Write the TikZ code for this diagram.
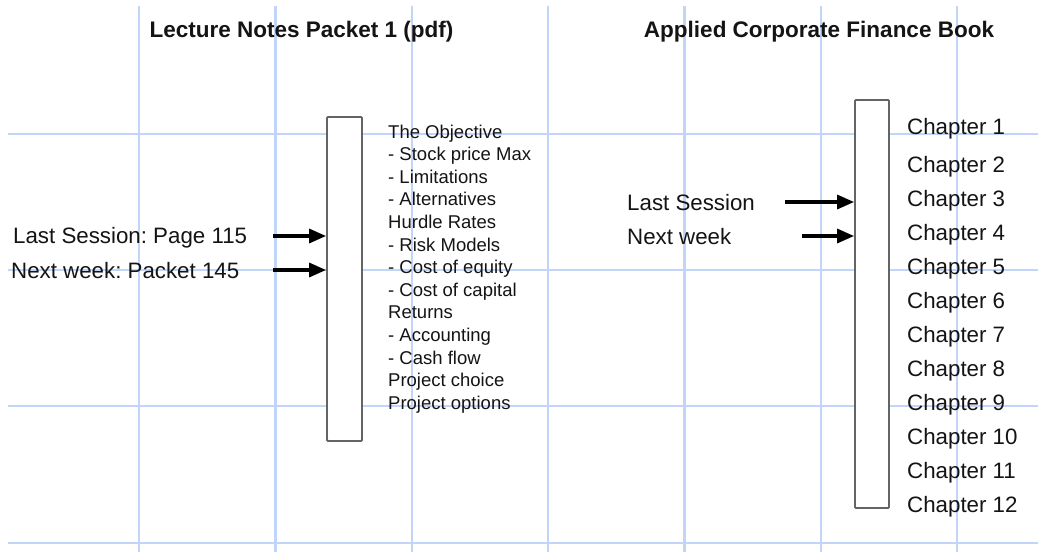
\documentclass[tikz,border=0pt]{standalone}
\usepackage{fontspec}
\setmainfont{Liberation Sans}
\usetikzlibrary{arrows.meta}
\definecolor{gridblue}{RGB}{192,213,249}
\definecolor{boxgray}{RGB}{100,100,100}
\definecolor{ink}{RGB}{20,20,20}
\tikzset{
  gridline/.style={draw=gridblue, line width=2.6pt},
  bar/.style={draw=boxgray, fill=white, line width=1.8pt, rounded corners=1pt, inner sep=0pt},
  ptr/.style={draw=black, line width=3.2pt, -{Triangle[length=17pt,width=14pt]}},
  title/.style={font=\fontsize{22.5}{26}\selectfont\bfseries, text=ink, inner sep=0pt},
  lbl/.style={font=\fontsize{22.3}{26}\selectfont, text=ink, inner sep=0pt, anchor=west},
  list/.style={font=\fontsize{18.5}{22.6}\selectfont, text=ink, inner sep=0pt, anchor=west, align=left},
}
\begin{document}
\frenchspacing
\begin{tikzpicture}[x=1pt,y=-1pt]
\useasboundingbox (0,0) rectangle (1038,552);
\fill[white] (0,0) rectangle (1038,552);
% grid
\foreach \gx in {139,275.5,412,548,684.5,821,957}
  \draw[gridline] (\gx,6) -- (\gx,552);
\foreach \gy in {134,270,406,543}
  \draw[gridline] (8,\gy) -- (1038,\gy);
% titles
\node[title] (t1) at (301.5,32) {Lecture Notes Packet 1 (pdf)};
\node[title] (t2) at (819,32) {Applied Corporate Finance Book};
% boxes
\node[bar, minimum width=35pt, minimum height=324pt] (box1) at (344.5,279) {};
\node[bar, minimum width=34pt, minimum height=408pt] (box2) at (872,304) {};
% left labels
\node[lbl] (ls1) at (13,238) {Last Session: Page 115};
\node[lbl] (nw1) at (11,271) {Next week: Packet 145};
\coordinate (a1) at (273,236);
\coordinate (a2) at (273,270);
\draw[ptr] (a1) -- (a1 -| box1.west);
\draw[ptr] (a2) -- (a2 -| box1.west);
% list
\node[list] (topics) at (388,269) {The Objective\\
- Stock price Max\\
- Limitations\\
- Alternatives\\
Hurdle Rates\\
- Risk Models\\
- Cost of equity\\
- Cost of capital\\
Returns\\
- Accounting\\
- Cash flow\\
Project choice\\
Project options};
% right labels
\node[lbl] (ls2) at (627,203) {Last Session};
\node[lbl] (nw2) at (627,237) {Next week};
\coordinate (b1) at (785,202);
\coordinate (b2) at (802,236);
\draw[ptr] (b1) -- (b1 -| box2.west);
\draw[ptr] (b2) -- (b2 -| box2.west);
% chapters
\node[lbl] (c1) at (907,129) {Chapter 1};
\node[lbl] (c2) at (907,167) {Chapter 2};
\node[lbl] (c3) at (907,201) {Chapter 3};
\node[lbl] (c4) at (907,235) {Chapter 4};
\node[lbl] (c5) at (907,269) {Chapter 5};
\node[lbl] (c6) at (907,303) {Chapter 6};
\node[lbl] (c7) at (907,337) {Chapter 7};
\node[lbl] (c8) at (907,371) {Chapter 8};
\node[lbl] (c9) at (907,405) {Chapter 9};
\node[lbl] (c10) at (907,439) {Chapter 10};
\node[lbl] (c11) at (907,473) {Chapter 11};
\node[lbl] (c12) at (907,507) {Chapter 12};
\end{tikzpicture}
\end{document}
